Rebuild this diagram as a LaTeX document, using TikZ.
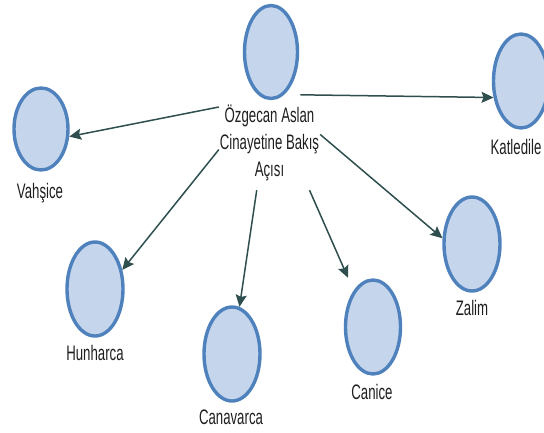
\documentclass[tikz,border=0pt]{standalone}
\usepackage{fontspec}
\newfontfamily\etiketfont[FakeStretch=0.63]{Liberation Sans}
\usepackage{tikz}
\usetikzlibrary{shapes.geometric, arrows.meta, positioning}
\usepackage{xcolor}
\definecolor{dairemavi}{RGB}{79,129,189}
\definecolor{dairedolgu}{RGB}{197,214,236}
\definecolor{okrengi}{RGB}{47,79,79}
\definecolor{yazirengi}{RGB}{30,30,30}

\begin{document}
\begin{tikzpicture}[x=1pt,y=-1pt,
    daire/.style={ellipse, draw=dairemavi, fill=dairedolgu, line width=3.4pt,
        inner sep=0pt, minimum width=55pt, minimum height=94pt},
    etiket/.style={font=\etiketfont\fontsize{21}{27}\selectfont, text=yazirengi, inner sep=0pt},
    ok/.style={draw=okrengi, line width=1.5pt, -{Stealth[length=12pt,width=11pt,inset=2pt]}}]

    \useasboundingbox (0,0) rectangle (544,432);

    % =====================
    % Concept circles
    % =====================
    \node[daire, minimum width=53pt, minimum height=93pt] (merkezdaire) at (271,52) {};
    \node[daire, minimum width=54pt, minimum height=82pt] (vahsice) at (41,129) {};
    \node[daire] (katledile) at (521,81) {};
    \node[daire, minimum width=56pt] (hunharca) at (95,289) {};
    \node[daire, minimum width=56pt] (canavarca) at (232,354) {};
    \node[daire] (canice) at (373,327) {};
    \node[daire, minimum width=56pt] (zalim) at (472,244) {};

    % =====================
    % Labels
    % =====================
    \node[etiket, align=center, minimum width=101pt, minimum height=95pt] (merkez) at (269.5,142.5)
        {Özgecan Aslan\\Cinayetine Bakış\\Açısı};
    \node[etiket] (vahsiceyazi) at (40,193) {Vahşice};
    \node[etiket] (katlediyazi) at (516,147) {Katledile};
    \node[etiket] (hunharcayazi) at (95,353) {Hunharca};
    \node[etiket] (canavarcayazi) at (231,417) {Canavarca};
    \node[etiket] (caniceyazi) at (372,392) {Canice};
    \node[etiket] (zalimyazi) at (472,308) {Zalim};

    % =====================
    % Arrows
    % =====================
    \draw[ok] (merkez.145) -- (vahsice.345);
    \draw[ok] (merkez.57) -- (katledile.211);
    \draw[ok] (merkez.188) -- (hunharca.35);
    \draw[ok] (merkez.255) -- (canavarca.81);
    \draw[ok, shorten >=14pt] (merkez.310) -- (canice.118);
    \draw[ok] (merkez.9) -- (zalim.169);

\end{tikzpicture}
\end{document}
